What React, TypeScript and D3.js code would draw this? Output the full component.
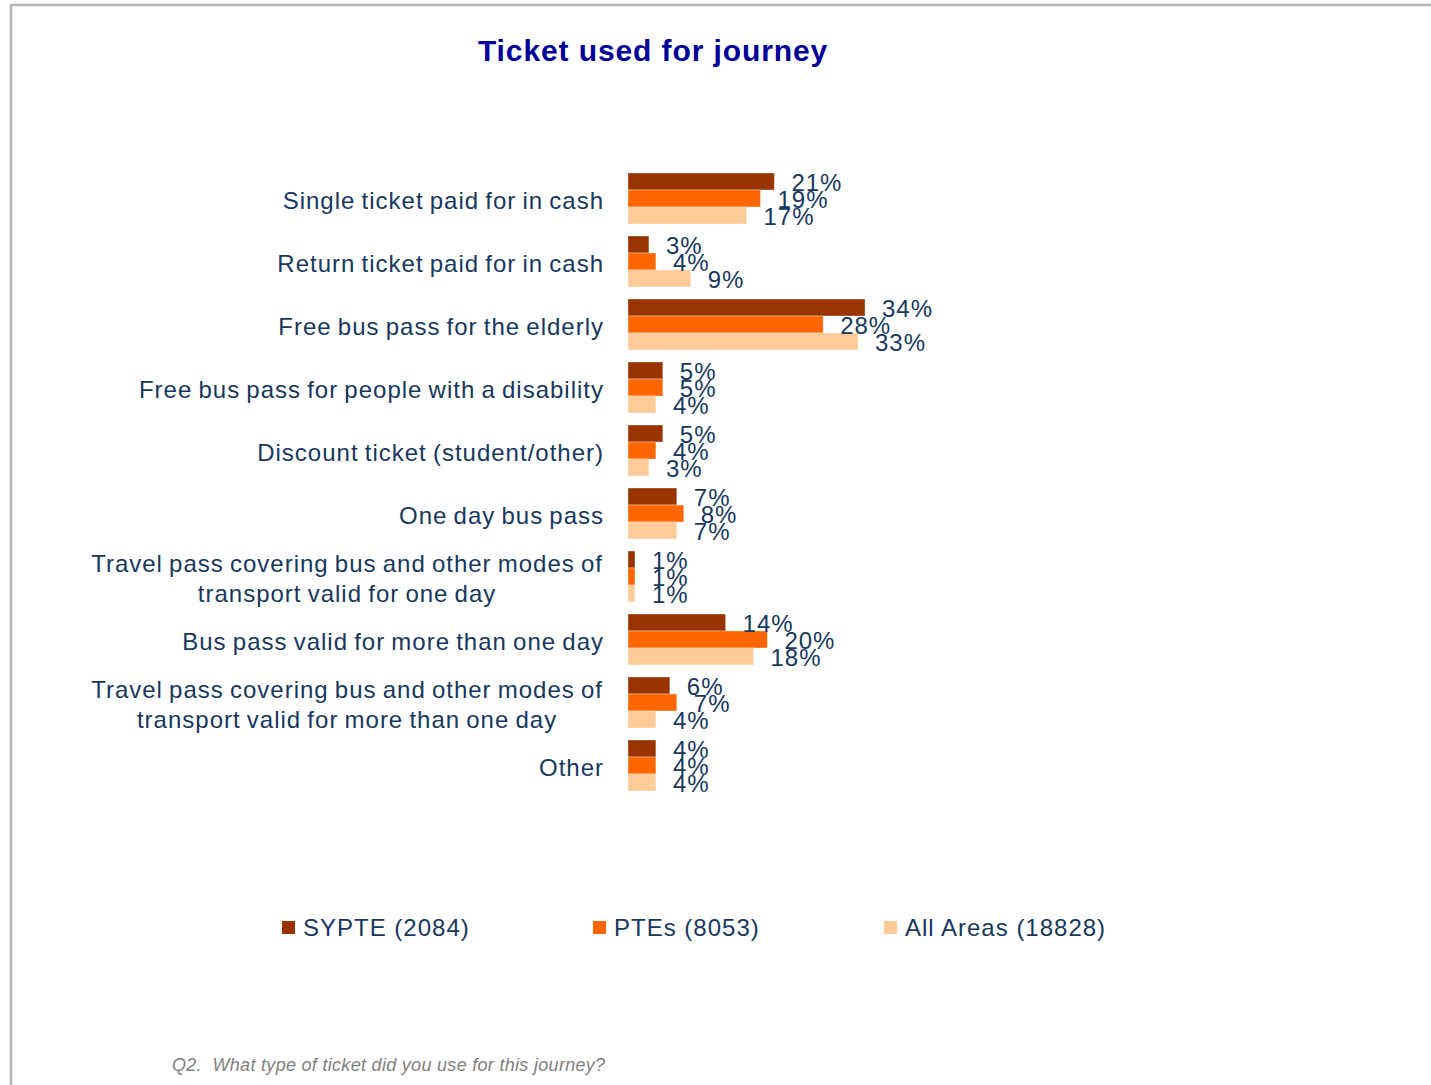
// Ticket used for journey - grouped horizontal bar chart
import React, { useEffect, useRef } from 'react';
import * as d3 from 'd3';

const categories: string[][] = [
  ['Single ticket paid for in cash'],
  ['Return ticket paid for in cash'],
  ['Free bus pass for the elderly'],
  ['Free bus pass for people with a disability'],
  ['Discount ticket (student/other)'],
  ['One day bus pass'],
  ['Travel pass covering bus and other modes of', 'transport valid for one day'],
  ['Bus pass valid for more than one day'],
  ['Travel pass covering bus and other modes of', 'transport valid for more than one day'],
  ['Other'],
];

const seriesNames = ['SYPTE (2084)', 'PTEs (8053)', 'All Areas (18828)'];
const sypte = [21, 3, 34, 5, 5, 7, 1, 14, 6, 4];
const ptes = [19, 4, 28, 5, 4, 8, 1, 20, 7, 4];
const allAreas = [17, 9, 33, 4, 3, 7, 1, 18, 4, 4];
const seriesColors = ['#993300', '#FF6600', '#FFCC99'];

const TEXT = '#17375E';
const FONT = 'Liberation Sans, Arial, sans-serif';

const App: React.FC = () => {
  const ref = useRef<SVGSVGElement>(null);

  useEffect(() => {
    document.body.style.margin = '0';
    if (!ref.current) return;
    const svg = d3.select(ref.current);
    svg.selectAll('*').remove();

    const width = 1431;
    const height = 1085;
    svg.attr('width', width).attr('height', height);

    // frame
    svg.append('path')
      .attr('d', `M11,${height} L11,5 L${width},5`)
      .attr('fill', 'none')
      .attr('stroke', '#b4b4b4')
      .attr('stroke-width', 2.5);

    // title
    svg.append('text')
      .attr('x', 653)
      .attr('y', 61)
      .attr('text-anchor', 'middle')
      .attr('font-family', FONT)
      .attr('font-weight', 'bold')
      .attr('font-size', 30)
      .attr('letter-spacing', 0.9)
      .attr('fill', '#000099')
      .text('Ticket used for journey');

    const series = [sypte, ptes, allAreas];
    const x0 = 628;
    const xScale = d3.scaleLinear().domain([0, 34]).range([x0, 865]);
    const yScale = d3.scaleBand<number>()
      .domain(d3.range(categories.length))
      .range([167, 797])
      .paddingInner(12 / 63)
      .paddingOuter(6 / 63);
    const ySub = d3.scaleBand<number>()
      .domain([0, 1, 2])
      .range([0, yScale.bandwidth()]);

    const g = svg.append('g');

    // category labels
    categories.forEach((lines, i) => {
      const cy = (yScale(i) ?? 0) + yScale.bandwidth() / 2;
      const t = g.append('text')
        .attr('font-family', FONT)
        .attr('font-size', 24)
        .attr('letter-spacing', 1)
        .attr('word-spacing', -1.5)
        .attr('fill', TEXT)
        .attr('text-anchor', lines.length > 1 ? 'middle' : 'end');
      lines.forEach((ln, j) => {
        t.append('tspan')
          .attr('y', cy + 10.5 + (j - (lines.length - 1) / 2) * 30)
          .text(ln);
      });
      if (lines.length > 1) {
        const spans = t.selectAll<SVGTSpanElement, unknown>('tspan').nodes();
        const w = d3.max(spans, (s) => s.getComputedTextLength()) ?? 0;
        t.selectAll('tspan').attr('x', 603 - w / 2);
      } else {
        t.selectAll('tspan').attr('x', 604);
      }
    });

    // bars
    series.forEach((vals, s) => {
      vals.forEach((v, i) => {
        const y = (yScale(i) ?? 0) + (ySub(s) ?? 0);
        g.append('rect')
          .attr('x', x0)
          .attr('y', y)
          .attr('width', xScale(v) - x0)
          .attr('height', ySub.bandwidth())
          .attr('fill', seriesColors[s])
          .attr('stroke', '#ffffff')
          .attr('stroke-opacity', 0.35)
          .attr('stroke-width', 1);
      });
    });

    // value labels
    series.forEach((vals, s) => {
      vals.forEach((v, i) => {
        const y = (yScale(i) ?? 0) + (ySub(s) ?? 0) + ySub.bandwidth() / 2;
        g.append('text')
          .attr('x', xScale(v) + 17)
          .attr('y', y + 9.5)
          .attr('font-family', FONT)
          .attr('font-size', 24)
          .attr('letter-spacing', 1)
          .attr('fill', TEXT)
          .text(`${v}%`);
      });
    });

    // legend
    const legendX = [282, 593, 884];
    seriesNames.forEach((name, s) => {
      svg.append('rect')
        .attr('x', legendX[s])
        .attr('y', 921)
        .attr('width', 13)
        .attr('height', 13)
        .attr('fill', seriesColors[s]);
      svg.append('text')
        .attr('x', legendX[s] + 21)
        .attr('y', 936)
        .attr('font-family', FONT)
        .attr('font-size', 24)
        .attr('letter-spacing', 1)
        .attr('fill', TEXT)
        .text(name);
    });

    // footnote
    svg.append('text')
      .attr('x', 172)
      .attr('y', 1071)
      .attr('font-family', FONT)
      .attr('font-size', 18)
      .attr('font-style', 'italic')
      .attr('letter-spacing', 0.3)
      .attr('fill', '#808080')
      .style('white-space', 'pre')
      .text('Q2.  What type of ticket did you use for this journey?');
  }, []);

  return <svg ref={ref} style={{ display: 'block' }}></svg>;
};

export default App;
